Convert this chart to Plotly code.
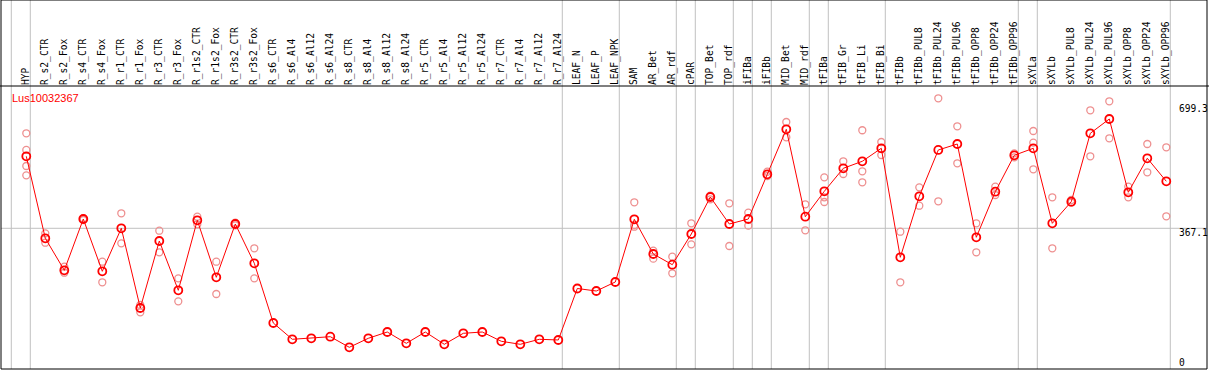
import plotly.graph_objects as go

title = "Lus10032367"

categories = [
    "HYP", "R_s2_CTR", "R_s2_Fox", "R_s4_CTR", "R_s4_Fox", "R_r1_CTR", "R_r1_Fox",
    "R_r3_CTR", "R_r3_Fox", "R_r1s2_CTR", "R_r1s2_Fox", "R_r3s2_CTR", "R_r3s2_Fox",
    "R_s6_CTR", "R_s6_Al4", "R_s6_Al12", "R_s6_Al24", "R_s8_CTR", "R_s8_Al4",
    "R_s8_Al12", "R_s8_Al24", "R_r5_CTR", "R_r5_Al4", "R_r5_Al12", "R_r5_Al24",
    "R_r7_CTR", "R_r7_Al4", "R_r7_Al12", "R_r7_Al24", "LEAF_N", "LEAF_P", "LEAF_NPK",
    "SAM", "AR_Bet", "AR_rdf", "cPAR", "TOP_Bet", "TOP_rdf", "iFIBa", "iFIBb",
    "MID_Bet", "MID_rdf", "tFIBa", "tFIB_Gr", "tFIB_Li", "tFIB_Bi", "tFIBb",
    "tFIBb_PUL8", "tFIBb_PUL24", "tFIBb_PUL96", "tFIBb_OPP8", "tFIBb_OPP24",
    "tFIBb_OPP96", "sXYLa", "sXYLb", "sXYLb_PUL8", "sXYLb_PUL24", "sXYLb_PUL96",
    "sXYLb_OPP8", "sXYLb_OPP24", "sXYLb_OPP96",
]

mean_values = [
    554.9, 341.0, 257.5, 391.3, 254.9, 367.1, 159.1, 333.9, 205.3, 387.9, 239.2,
    378.3, 275.8, 120.0, 77.5, 80.1, 84.3, 56.6, 80.1, 96.5, 67.0, 96.5, 64.4,
    93.1, 96.5, 72.3, 64.4, 77.5, 75.7, 210.0, 203.5, 227.0, 390.6, 300.0, 272.1,
    352.2, 448.7, 378.3, 391.3, 508.0, 625.4, 397.3, 463.6, 523.6, 541.9, 575.8,
    291.4, 450.6, 571.4, 587.0, 343.6, 462.6, 557.5, 575.8, 380.1, 436.5, 614.9,
    652.2, 461.0, 549.7, 489.7,
]

replicate_values = [
    [614.9, 571.4, 529.6, 505.3],
    [354.0, 329.5], [266.9, 251.2], [393.2, 388.7], [279.9, 226.2],
    [406.2, 327.9], [167.0, 147.9], [360.8, 304.5], [236.6, 176.6],
    [397.3, 377.5], [279.9, 195.7], [381.7, 374.9], [314.9, 236.6],
    [], [], [], [], [], [], [], [], [], [], [], [], [], [], [], [],
    [], [], [],
    [434.9, 375.7, 371.2], [308.6, 287.8], [293.0, 249.7], [380.1, 325.3],
    [452.1, 442.7], [432.3, 320.9], [407.8, 373.9], [514.7, 503.5],
    [644.4, 604.5], [429.7, 361.9], [500.1, 448.0, 435.7], [541.9, 508.7],
    [622.8, 515.8, 487.1], [592.2, 558.3], [358.2, 226.2], [474.0, 426.0],
    [706.2, 437.5], [633.2, 536.7], [380.1, 304.5], [475.6, 454.0],
    [562.7, 552.3], [620.9, 590.4, 521.0], [448.0, 314.9], [440.9, 433.9],
    [674.9, 554.9], [698.4, 601.9], [475.6, 448.0], [587.0, 513.2],
    [578.4, 398.4],
]

# indices of the last category of each group (a separator follows them)
group_ends = [-1, 0, 28, 31, 34, 35, 37, 38, 39, 41, 42, 45, 52, 53, 60]

y_tick_values = [0, 367.1, 699.3]
y_tick_labels = ["0", "367.1", "699.3"]

rep_x, rep_y = [], []
for cat, reps in zip(categories, replicate_values):
    for v in reps:
        rep_x.append(cat)
        rep_y.append(v)

fig = go.Figure()
fig.add_trace(go.Scatter(
    x=rep_x, y=rep_y, mode="markers",
    marker=dict(symbol="circle-open", size=7, color="#ee9090", line=dict(width=1.3)),
    hoverinfo="skip", showlegend=False,
))
fig.add_trace(go.Scatter(
    x=categories, y=mean_values, mode="lines+markers",
    line=dict(color="#ff0000", width=1),
    marker=dict(symbol="circle-open", size=8, color="#ff0000", line=dict(width=1.8)),
    showlegend=False,
))

GRAY = "#c0c0c0"
top_paper = 369.0 / 283.0

shapes = []
for g in group_ends:
    shapes.append(dict(type="line", xref="x", yref="paper", x0=g + 0.21, x1=g + 0.21,
                       y0=0, y1=top_paper, line=dict(color=GRAY, width=1), layer="below"))
shapes.append(dict(type="line", xref="paper", yref="y", x0=0, x1=1,
                   y0=y_tick_values[1], y1=y_tick_values[1],
                   line=dict(color=GRAY, width=1), layer="below"))
shapes.append(dict(type="rect", xref="paper", yref="paper", x0=0, x1=1, y0=0, y1=top_paper,
                   line=dict(color="black", width=1)))
shapes.append(dict(type="line", xref="paper", yref="paper", x0=-0.01, x1=1.01, y0=1, y1=1,
                   line=dict(color="black", width=1)))

annotations = [dict(
    text=title, xref="paper", yref="paper", x=9.0 / 1206, y=(369 - 97.7) / 283,
    xanchor="left", yanchor="middle", showarrow=False,
    font=dict(family="Liberation Sans", size=11, color="#ff0000"),
)]
shifts = [7, -4, -8]
for v, lab, s in zip(y_tick_values, y_tick_labels, shifts):
    annotations.append(dict(
        text=lab, xref="paper", yref="y", x=1176.5 / 1206, y=v, yshift=s,
        xanchor="left", yanchor="middle", showarrow=False, borderpad=0,
        font=dict(family="DejaVu Sans Mono", size=9.6, color="black"),
    ))

fig.update_layout(
    width=1209, height=370,
    margin=dict(l=1, r=2, t=86, b=1, pad=0),
    paper_bgcolor="white", plot_bgcolor="white",
    shapes=shapes, annotations=annotations,
    xaxis=dict(
        type="category", categoryorder="array", categoryarray=categories,
        range=[-1.3316, 62.142], side="top", tickangle=-90,
        showgrid=False, zeroline=False, showline=False, ticks="",
        tickfont=dict(family="DejaVu Sans Mono", size=9.6, color="black"),
        fixedrange=True,
    ),
    yaxis=dict(
        range=[0, 738.3], showgrid=False, zeroline=False, showline=False,
        showticklabels=False, ticks="", fixedrange=True,
    ),
)

fig.write_html(
    "out.html",
    config={"displayModeBar": False},
    post_script="document.body.style.margin='0px';document.body.style.overflow='hidden';",
)
